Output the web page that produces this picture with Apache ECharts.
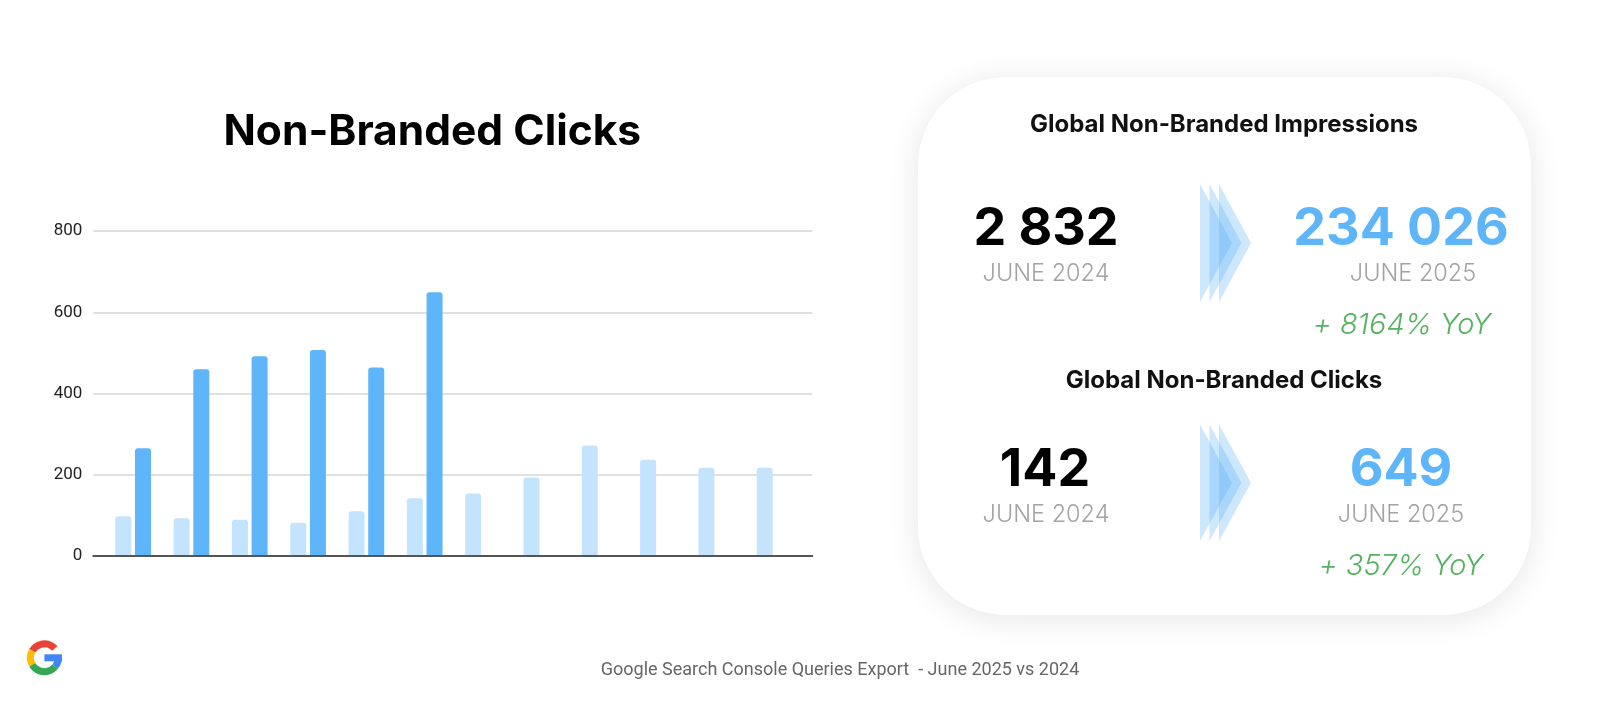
<!DOCTYPE html>
<html>
<head>
<meta charset="utf-8">
<script src="https://cdn.jsdelivr.net/npm/echarts@6/dist/echarts.min.js"></script>
<style>
html,body{margin:0;padding:0;background:#fff;}
#chart{width:1600px;height:701px;}
</style>
</head>
<body>
<div id="chart"></div>
<script>
// ---- data ----
const categories = ['Jan','Feb','Mar','Apr','May','Jun','Jul','Aug','Sep','Oct','Nov','Dec'];
const clicks2024 = [98, 93, 89, 82, 110, 142, 154, 193, 272, 237, 217, 217];
const clicks2025 = [265, 460, 492, 507, 464, 649];
const yMin = 0, yMax = 800, yInterval = 200;

const impressionsJune2024 = 2832;
const impressionsJune2025 = 234026;
const clicksJune2024 = 142;
const clicksJune2025 = 649;
const periodLabels = ['JUNE 2024', 'JUNE 2025'];
const chartTitle = 'Non-Branded Clicks';
const footerText = 'Google Search Console Queries Export  - June 2025 vs 2024';

// ---- helpers ----
function fmt(n){ return String(n).replace(/\B(?=(\d{3})+(?!\d))/g, ' '); }
function yoy(a,b){ return '+ ' + Math.round((b-a)/a*100) + '% YoY'; }

const LIGHT = '#C3E4FC', DARK = '#5EB5FA', GREEN = '#55B25E', GREY = '#A3A3A3';
const INTER = 'Inter, "Noto Sans", sans-serif';

function txt(x, y, text, font, fill){
  return { type:'text', x:x, y:y, style:{ text:text, font:font, fill:fill, textAlign:'center', textVerticalAlign:'middle' } };
}
function chevrons(yTop, yBot){
  const els = [];
  const lefts = [1200, 1209.5, 1219];
  const w = 32;
  const mid = (yTop + yBot) / 2;
  lefts.forEach(function(l){
    els.push({ type:'polygon', shape:{ points:[[l,yTop],[l+w,mid],[l,yBot]] },
      style:{ fill:'rgba(90,175,250,0.30)' } });
  });
  return els;
}
function gLogo(cx, cy){
  const r = 14, lw = 7, d = Math.PI/180;
  return [
    { type:'arc', shape:{cx:cx, cy:cy, r:r, startAngle:-150*d, endAngle:-42*d}, style:{fill:null, stroke:'#EA4335', lineWidth:lw} },
    { type:'arc', shape:{cx:cx, cy:cy, r:r, startAngle:150*d, endAngle:210*d}, style:{fill:null, stroke:'#FBBC05', lineWidth:lw} },
    { type:'arc', shape:{cx:cx, cy:cy, r:r, startAngle:40*d, endAngle:150*d}, style:{fill:null, stroke:'#34A853', lineWidth:lw} },
    { type:'arc', shape:{cx:cx, cy:cy, r:r, startAngle:0, endAngle:40*d}, style:{fill:null, stroke:'#4285F4', lineWidth:lw} },
    { type:'rect', shape:{x:cx, y:cy-3.5, width:r+3.5, height:7}, style:{fill:'#4285F4'} }
  ];
}

const graphics = [
  { type:'rect', z:0, shape:{x:918, y:77, width:613, height:538, r:88},
    style:{ fill:'#ffffff', shadowBlur:32, shadowColor:'rgba(0,0,0,0.10)', shadowOffsetY:4 } },
  txt(1224, 124.5, 'Global Non-Branded Impressions', '700 24px ' + INTER, '#111'),
  txt(1046, 229.6, fmt(impressionsJune2024), '700 52px ' + INTER, '#000'),
  txt(1046, 273.5, periodLabels[0], '300 23.5px ' + INTER, GREY),
  txt(1401, 229.6, fmt(impressionsJune2025), '700 52px ' + INTER, DARK),
  txt(1413, 273.5, periodLabels[1], '300 23.5px ' + INTER, GREY),
  txt(1402, 325.5, yoy(impressionsJune2024, impressionsJune2025), 'italic 300 29px ' + INTER, GREEN),
  txt(1224, 380.6, 'Global Non-Branded Clicks', '700 24px ' + INTER, '#111'),
  txt(1045, 470.4, fmt(clicksJune2024), '700 52px ' + INTER, '#000'),
  txt(1046, 515.3, periodLabels[0], '300 23.5px ' + INTER, GREY),
  txt(1401, 470.4, fmt(clicksJune2025), '700 52px ' + INTER, DARK),
  txt(1401, 515.3, periodLabels[1], '300 23.5px ' + INTER, GREY),
  txt(1401, 566.3, yoy(clicksJune2024, clicksJune2025), 'italic 300 29px ' + INTER, GREEN),
  txt(840, 670.4, footerText, '18px Roboto, sans-serif', '#666')
].concat(chevrons(184, 302), chevrons(424.5, 541), gLogo(44.4, 657.8));

const chart = echarts.init(document.getElementById('chart'), null, {renderer:'canvas'});
chart.setOption({
  animation:false,
  backgroundColor:'#ffffff',
  title:{ text:chartTitle, left:427.3, top:104, textAlign:'center',
    textStyle:{ fontFamily:INTER, fontWeight:700, fontSize:42.5, color:'#000', lineHeight:46 } },
  grid:[
    { left:93.3, right:1600-812.3, top:231, bottom:701-556, containLabel:false },
    { left:104, right:1600-803.7, top:231, bottom:701-556, containLabel:false }
  ],
  xAxis:[
    { gridIndex:0, type:'category', data:[''], axisTick:{show:false}, axisLabel:{show:false},
      axisLine:{ show:true, lineStyle:{ color:'#555', width:2 } }, z:5 },
    { gridIndex:1, type:'category', data:categories, show:false }
  ],
  yAxis:[
    { gridIndex:0, type:'value', min:yMin, max:yMax, interval:yInterval,
      axisLine:{show:false}, axisTick:{show:false},
      axisLabel:{ fontFamily:'Roboto, sans-serif', fontSize:17, color:'#222', margin:11 },
      splitLine:{ lineStyle:{ color:'#D6D6D6', width:1.5 } } },
    { gridIndex:1, type:'value', min:yMin, max:yMax, interval:yInterval, show:false, splitLine:{show:false} }
  ],
  series:[
    { name:'2024', type:'bar', xAxisIndex:1, yAxisIndex:1, data:clicks2024, barWidth:16, barGap:'23%',
      itemStyle:{ color:LIGHT, borderRadius:[3,3,0,0] } },
    { name:'2025', type:'bar', xAxisIndex:1, yAxisIndex:1, data:clicks2025, barWidth:16, barGap:'23%',
      itemStyle:{ color:DARK, borderRadius:[3,3,0,0] } }
  ],
  graphic:{ elements:graphics }
});
</script>
</body>
</html>
